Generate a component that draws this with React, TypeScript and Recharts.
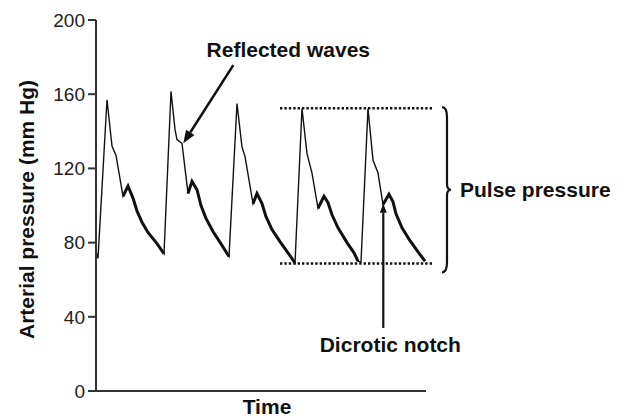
import { LineChart, Line, XAxis, YAxis, ReferenceLine } from 'recharts';

// arterial pressure trace (time in arbitrary units, mm Hg)
const timeUnits = [
  0, 2, 11, 16, 20, 27, 32, 37, 41, 46, 52, 61, 68,
  75, 79, 81, 86, 92, 96, 101, 105, 110, 117, 126, 133,
  141, 146, 149, 157, 161, 166, 170, 176, 184, 192, 199,
  206, 211, 216, 222, 228, 232, 236, 242, 251, 258, 262, 265,
  272, 277, 282, 287, 293, 297, 300, 306, 314, 322, 329,
];
const pressure = [
  75, 71.5, 157, 132, 127, 105, 110.5, 104, 97, 91, 85.5, 79.5, 74,
  161.5, 141, 135.5, 133.5, 106.5, 113, 108.5, 100, 93, 86, 78.5, 72.5,
  155, 131.5, 126.5, 101, 106.5, 101, 94, 87, 80.5, 74.5, 69,
  152.3, 128, 117.5, 98.5, 105, 101.5, 95, 88, 80, 74.5, 70, 69.5,
  152.3, 124.5, 117.5, 100.5, 106, 102, 95.5, 88, 81, 75, 70,
];
// diastolic run-off of each beat (drawn heavier in the figure)
const decayStart = [27, 92, 157, 222, 287];
const decayEnd = [68, 133, 199, 262, 329];

const yTicks = [0, 40, 80, 120, 160, 200];

const systolic = 152.4;
const diastolic = 68.8;

const data = timeUnits.map((t, i) => ({
  t,
  p: pressure[i],
  d: decayStart.some((s, k) => t >= s && t <= decayEnd[k]) ? pressure[i] : null,
}));

const FONT = '"Liberation Sans", Arial, sans-serif';
const INK = '#111';
const LABEL_SIZE = 21;

function arrowShape(head: number, width: number, strokeWidth: number, text?: string, tdx = 0, tdy = 0) {
  return (props: any) => {
    const { x1, y1, x2, y2 } = props;
    const ang = Math.atan2(y2 - y1, x2 - x1);
    const bx = x2 - Math.cos(ang) * head;
    const by = y2 - Math.sin(ang) * head;
    const nx = -Math.sin(ang) * width / 2;
    const ny = Math.cos(ang) * width / 2;
    return (
      <g>
        <line x1={x1} y1={y1} x2={bx} y2={by} stroke={INK} strokeWidth={strokeWidth} />
        <polygon points={`${x2},${y2} ${bx + nx},${by + ny} ${bx - nx},${by - ny}`} fill={INK} />
        {text && (
          <text x={x1 + tdx} y={y1 + tdy} dy="0.35em" textAnchor="middle" fontFamily={FONT}
            fontWeight="bold" fontSize={LABEL_SIZE} fill={INK}>
            {text}
          </text>
        )}
      </g>
    );
  };
}

const braceShape = (props: any) => {
  const { x1, y1, y2 } = props;
  const top = Math.min(y1, y2);
  const bot = Math.max(y1, y2);
  const mid = (top + bot) / 2;
  const x = x1;
  const path = `M ${x - 3} ${top} Q ${x + 2} ${top} ${x + 2} ${top + 10} L ${x + 2} ${mid - 6}
    Q ${x + 2} ${mid} ${x + 6} ${mid} Q ${x + 2} ${mid} ${x + 2} ${mid + 6}
    L ${x + 2} ${bot - 10} Q ${x + 2} ${bot} ${x - 3} ${bot}`;
  return (
    <g>
      <path d={path} fill="none" stroke={INK} strokeWidth={2.2} />
      <text x={x + 15} y={mid} dy="0.35em" fontFamily={FONT} fontWeight="bold" fontSize={LABEL_SIZE} fill={INK}>
        Pulse pressure
      </text>
    </g>
  );
};

export default function App() {
  return (
    <div style={{ position: 'absolute', left: 0, top: 0, width: 624, height: 420, background: '#fff' }}>
      <LineChart width={624} height={420} data={data} margin={{ top: 20, right: 198, bottom: 0, left: 0 }}>
        <XAxis
          type="number"
          dataKey="t"
          domain={[0, 330]}
          tick={false}
          tickLine={false}
          height={29}
          stroke="#333"
          strokeWidth={2}
          label={{ value: 'Time', position: 'center', dx: 6, dy: 1, fill: INK, fontSize: LABEL_SIZE, fontWeight: 'bold', fontFamily: FONT }}
        />
        <YAxis
          type="number"
          domain={[0, 200]}
          ticks={yTicks}
          width={96}
          tickSize={8}
          tickMargin={3}
          stroke="#333"
          strokeWidth={2}
          tick={{ fill: '#222', fontSize: 19, fontFamily: FONT }}
          label={{ value: 'Arterial pressure (mm Hg)', angle: -90, position: 'center', dx: -21, dy: 4, fill: INK, fontSize: LABEL_SIZE, fontWeight: 'bold', fontFamily: FONT }}
        />
        <ReferenceLine
          segment={[{ x: 184, y: systolic }, { x: 336, y: systolic }]}
          ifOverflow="visible"
          stroke={INK}
          strokeWidth={2.5}
          strokeDasharray="2.4 2"
        />
        <ReferenceLine
          segment={[{ x: 184, y: diastolic }, { x: 336, y: diastolic }]}
          ifOverflow="visible"
          stroke={INK}
          strokeWidth={2.5}
          strokeDasharray="2.4 2"
        />
        <ReferenceLine
          segment={[{ x: 349, y: 153 }, { x: 349, y: 64 }]}
          ifOverflow="visible"
          shape={braceShape}
        />
        <ReferenceLine
          segment={[{ x: 137.3, y: 175.7 }, { x: 87.3, y: 133.5 }]}
          ifOverflow="visible"
          shape={arrowShape(13, 10, 2.6, 'Reflected waves', 55, -15)}
        />
        <ReferenceLine
          segment={[{ x: 287.3, y: 34 }, { x: 287.3, y: 101 }]}
          ifOverflow="visible"
          shape={arrowShape(9, 7, 2.2, 'Dicrotic notch', 7, 17)}
        />
        <Line
          type="linear"
          dataKey="p"
          stroke={INK}
          strokeWidth={1.4}
          dot={false}
          isAnimationActive={false}
        />
        <Line
          type="linear"
          dataKey="d"
          stroke={INK}
          strokeWidth={3}
          dot={false}
          connectNulls={false}
          isAnimationActive={false}
        />
      </LineChart>
    </div>
  );
}
